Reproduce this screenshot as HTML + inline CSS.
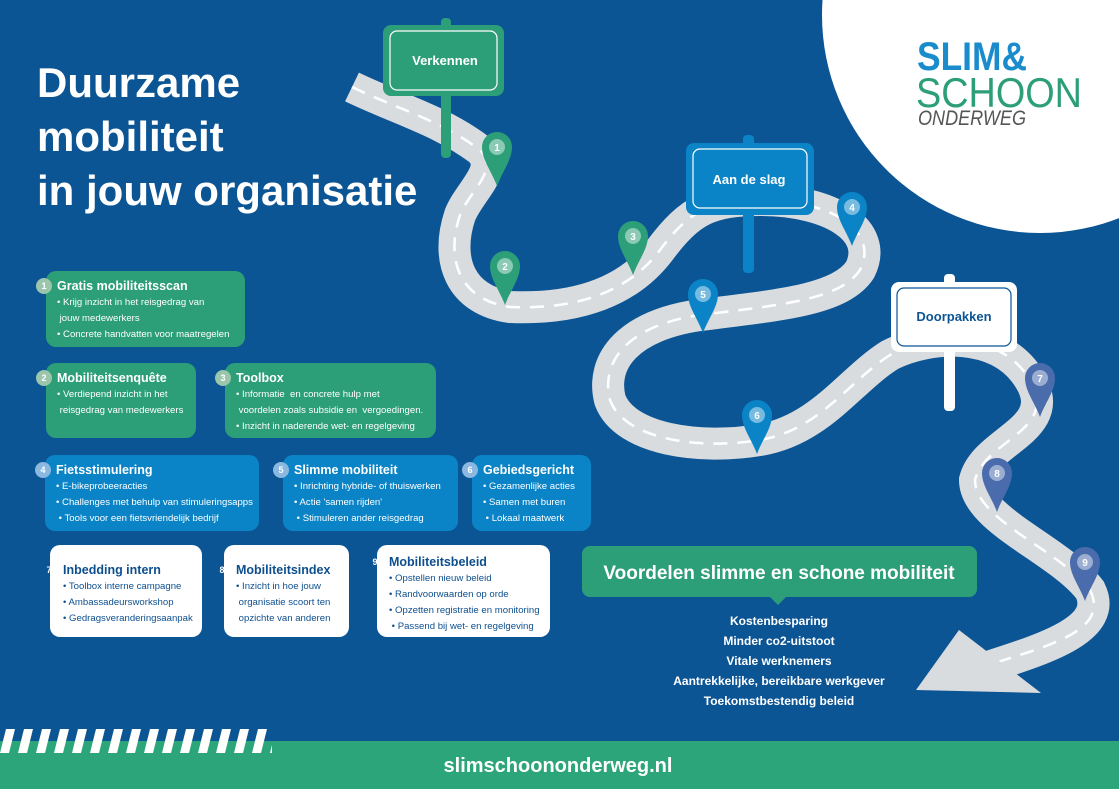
<!DOCTYPE html>
<html><head><meta charset="utf-8"><style>
html,body{margin:0;padding:0}
body{width:1119px;height:789px;overflow:hidden;background:#0c5595;font-family:"Liberation Sans",sans-serif;position:relative}
.box{position:absolute;border-radius:10px;color:#fff;box-sizing:border-box;padding:8px 0 0 11px}
.g{background:#2c9e78}.b{background:#0a84c6}.w{background:#fff;color:#0d4f8e}
.box h3{margin:0 0 2px 0;font-size:12.5px;font-weight:bold;position:relative}
.box p{margin:0;font-size:9.6px;line-height:16px;white-space:nowrap}
.num{position:absolute;left:-21px;top:-1px;width:16px;height:16px;border-radius:50%;background:#9bc6ac;color:#fff;font-size:9px;text-align:center;line-height:16px;font-weight:bold}
.b .num{background:#8ab8e0}.w .num{background:transparent;color:#fff;left:-22px}
.title{position:absolute;left:37px;top:56px;color:#fff;font-weight:bold;font-size:42px;line-height:54px}
</style></head><body>
<svg width="1119" height="789" style="position:absolute;left:0;top:0">
<circle cx="1040" cy="15" r="218" fill="#fff"/>
<path d="M352,87 C400,110 440,120 480,150 C500,170 470,190 460,215 C445,260 460,300 510,307 C580,310 630,290 660,250 C690,210 710,200 760,200 C830,200 880,230 860,270 C840,300 780,305 700,315 C630,325 600,360 610,400 C625,440 700,450 760,440 C820,430 850,380 890,355 C930,335 1000,330 1030,380 C1060,430 985,440 975,480 C975,520 1060,550 1090,590 C1110,630 1040,650 985,668" fill="none" stroke="#d9dcdf" stroke-width="32" stroke-linecap="butt"/>
<path d="M352,87 C400,110 440,120 480,150 C500,170 470,190 460,215 C445,260 460,300 510,307 C580,310 630,290 660,250 C690,210 710,200 760,200 C830,200 880,230 860,270 C840,300 780,305 700,315 C630,325 600,360 610,400 C625,440 700,450 760,440 C820,430 850,380 890,355 C930,335 1000,330 1030,380 C1060,430 985,440 975,480 C975,520 1060,550 1090,590 C1110,630 1050,645 998,662" fill="none" stroke="#fff" stroke-width="2.5" stroke-dasharray="14 10"/>
<polygon points="916,690 959,630 1041,693" fill="#d9dcdf"/>
<!-- signs -->
<rect x="441" y="18" width="10" height="140" rx="4" fill="#2c9e78"/>
<rect x="383" y="25" width="121" height="71" rx="8" fill="#2c9e78"/>
<rect x="390" y="31" width="107" height="59" rx="7" fill="none" stroke="#fff" stroke-width="1.2"/>
<text x="445" y="65" fill="#fff" font-size="13" font-weight="bold" text-anchor="middle">Verkennen</text>
<rect x="743" y="135" width="11" height="138" rx="4" fill="#0a84c6"/>
<rect x="686" y="143" width="128" height="72" rx="8" fill="#0a84c6"/>
<rect x="693" y="149" width="114" height="59" rx="7" fill="none" stroke="#fff" stroke-width="1.2"/>
<text x="749" y="184" fill="#fff" font-size="13" font-weight="bold" text-anchor="middle">Aan de slag</text>
<rect x="944" y="274" width="11" height="137" rx="4" fill="#fff"/>
<rect x="891" y="282" width="126" height="70" rx="8" fill="#fff"/>
<rect x="897" y="288" width="114" height="58" rx="7" fill="none" stroke="#0c5595" stroke-width="1.2"/>
<text x="954" y="321" fill="#0c5595" font-size="13" font-weight="bold" text-anchor="middle">Doorpakken</text>
<!-- pins -->
<g font-size="10" font-weight="bold" fill="#fff" text-anchor="middle">
<g fill="#2c9e78"><path d="M482,147 a15,15 0 1 1 30,0 C512,160 502,172 497,186 C492,172 482,160 482,147Z"/><path d="M490,266 a15,15 0 1 1 30,0 C520,279 510,291 505,305 C500,291 490,279 490,266Z"/><path d="M618,236 a15,15 0 1 1 30,0 C648,249 638,261 633,275 C628,261 618,249 618,236Z"/></g>
<g fill="#0a84c6"><path d="M837,207 a15,15 0 1 1 30,0 C867,220 857,232 852,246 C847,232 837,220 837,207Z"/><path d="M688,294 a15,15 0 1 1 30,0 C718,307 708,319 703,333 C698,319 688,307 688,294Z"/><path d="M742,415 a15,15 0 1 1 30,0 C772,428 762,440 757,454 C752,440 742,428 742,415Z"/></g>
<g fill="#4a6bac"><path d="M1025,378 a15,15 0 1 1 30,0 C1055,391 1045,403 1040,417 C1035,403 1025,391 1025,378Z"/><path d="M982,473 a15,15 0 1 1 30,0 C1012,486 1002,498 997,512 C992,498 982,486 982,473Z"/><path d="M1070,562 a15,15 0 1 1 30,0 C1100,575 1090,587 1085,601 C1080,587 1070,575 1070,562Z"/></g>
<g fill="#fff" fill-opacity="0.45"><circle cx="497" cy="147" r="8"/><circle cx="505" cy="266" r="8"/><circle cx="633" cy="236" r="8"/><circle cx="852" cy="207" r="8"/><circle cx="703" cy="294" r="8"/><circle cx="757" cy="415" r="8"/><circle cx="1040" cy="378" r="8"/><circle cx="997" cy="473" r="8"/><circle cx="1085" cy="562" r="8"/></g>
<text x="497" y="151">1</text><text x="505" y="270">2</text><text x="633" y="240">3</text><text x="852" y="211">4</text><text x="703" y="298">5</text><text x="757" y="419">6</text><text x="1040" y="382">7</text><text x="997" y="477">8</text><text x="1085" y="566">9</text>
</g>
<!-- logo -->
<text x="917" y="70" fill="#1a8ccc" font-size="40" font-weight="bold" textLength="110" lengthAdjust="spacingAndGlyphs">SLIM&amp;</text>
<text x="916" y="107" fill="#2c9e78" font-size="42" textLength="166" lengthAdjust="spacingAndGlyphs">SCHOON</text>
<text x="918" y="125" fill="#555" font-size="21" font-style="italic" textLength="108" lengthAdjust="spacingAndGlyphs">ONDERWEG</text>
<!-- voordelen -->
<rect x="582" y="546" width="395" height="51" rx="8" fill="#2c9e78"/>
<polygon points="770,597 786,597 778,605" fill="#2c9e78"/>
<text x="779" y="579" fill="#fff" font-size="19" font-weight="bold" text-anchor="middle">Voordelen slimme en schone mobiliteit</text>
<g fill="#fff" font-size="12" font-weight="bold" text-anchor="middle">
<text x="779" y="625">Kostenbesparing</text><text x="779" y="645">Minder co2-uitstoot</text><text x="779" y="665">Vitale werknemers</text><text x="779" y="685">Aantrekkelijke, bereikbare werkgever</text><text x="779" y="705">Toekomstbestendig beleid</text>
</g>
<!-- bottom -->
<rect x="0" y="741" width="1119" height="48" fill="#2ca57a"/>
<defs><pattern id="st" width="18" height="24" patternUnits="userSpaceOnUse" x="0" y="729"><polygon points="6,0 15,0 9,24 0,24" fill="#fff"/></pattern></defs>
<rect x="0" y="729" width="272" height="24" fill="url(#st)"/>
<text x="558" y="772" fill="#fff" font-size="20" font-weight="bold" text-anchor="middle">slimschoononderweg.nl</text>
</svg>
<div class="title">Duurzame<br>mobiliteit<br>in jouw organisatie</div>

<div class="box g" style="left:46px;top:271px;width:199px;height:76px"><h3><span class="num">1</span>Gratis mobiliteitsscan</h3><p>• Krijg inzicht in het reisgedrag van<br>&nbsp;jouw medewerkers<br>• Concrete handvatten voor maatregelen</p></div>
<div class="box g" style="left:46px;top:363px;width:150px;height:75px"><h3><span class="num">2</span>Mobiliteitsenquête</h3><p>• Verdiepend inzicht in het<br>&nbsp;reisgedrag van medewerkers</p></div>
<div class="box g" style="left:225px;top:363px;width:211px;height:75px"><h3><span class="num">3</span>Toolbox</h3><p>• Informatie &nbsp;en concrete hulp met<br>&nbsp;voordelen zoals subsidie en &nbsp;vergoedingen.<br>• Inzicht in naderende wet- en regelgeving</p></div>
<div class="box b" style="left:45px;top:455px;width:214px;height:76px"><h3><span class="num">4</span>Fietsstimulering</h3><p>• E-bikeprobeeracties<br>• Challenges met behulp van stimuleringsapps<br>&nbsp;• Tools voor een fietsvriendelijk bedrijf</p></div>
<div class="box b" style="left:283px;top:455px;width:175px;height:76px"><h3><span class="num">5</span>Slimme mobiliteit</h3><p>• Inrichting hybride- of thuiswerken<br>• Actie 'samen rijden'<br>&nbsp;• Stimuleren ander reisgedrag</p></div>
<div class="box b" style="left:472px;top:455px;width:119px;height:76px"><h3><span class="num">6</span>Gebiedsgericht</h3><p>• Gezamenlijke acties<br>• Samen met buren<br>&nbsp;• Lokaal maatwerk</p></div>
<div class="box w" style="left:50px;top:545px;width:152px;height:92px;padding:18px 0 0 13px"><h3><span class="num">7</span>Inbedding intern</h3><p>• Toolbox interne campagne<br>• Ambassadeursworkshop<br>• Gedragsveranderingsaanpak</p></div>
<div class="box w" style="left:224px;top:545px;width:125px;height:92px;padding:18px 0 0 12px"><h3><span class="num">8</span>Mobiliteitsindex</h3><p>• Inzicht in hoe jouw<br>&nbsp;organisatie scoort ten<br>&nbsp;opzichte van anderen</p></div>
<div class="box w" style="left:377px;top:545px;width:173px;height:92px;padding:10px 0 0 12px"><h3><span class="num">9</span>Mobiliteitsbeleid</h3><p>• Opstellen nieuw beleid<br>• Randvoorwaarden op orde<br>• Opzetten registratie en monitoring<br>&nbsp;• Passend bij wet- en regelgeving</p></div>
</body></html>
